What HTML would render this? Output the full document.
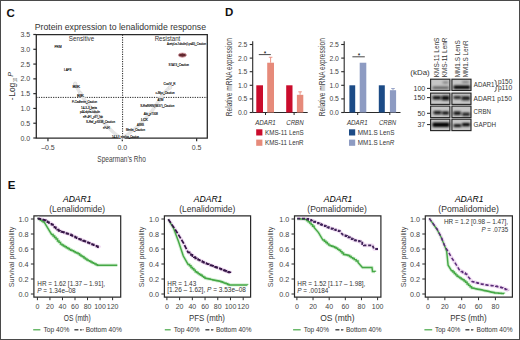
<!DOCTYPE html>
<html><head><meta charset="utf-8"><style>
html,body{margin:0;padding:0;background:#fff;width:520px;height:340px;overflow:hidden}
svg{display:block}
text{font-family:"Liberation Sans", sans-serif}
</style></head><body>
<svg width="520" height="340" viewBox="0 0 520 340">
<defs><filter id="bl" filterUnits="userSpaceOnUse" x="425" y="75" width="50" height="60"><feGaussianBlur stdDeviation="0.9"/></filter></defs>
<rect width="520" height="340" fill="#fff"/>
<rect x="0.50" y="0.50" width="519.00" height="339.00" fill="none" stroke="#4a4a4a" stroke-width="1" />
<text x="6.60" y="16.80" font-size="11.5" fill="#111" font-weight="bold" >C</text>
<text x="34.80" y="29.60" font-size="8.7" textLength="171.20" lengthAdjust="spacingAndGlyphs" fill="#333" >Protein expression to lenalidomide response</text>
<path d="M36.3 34.6 H207.3 V138.2 H36.3 Z" fill="none" stroke="#2a2a2a" stroke-width="1.3"/>
<line x1="33.30" y1="138.00" x2="36.30" y2="138.00" stroke="#2a2a2a" stroke-width="1.2" />
<text x="30.20" y="140.50" font-size="7" text-anchor="end" fill="#444" >0.0</text>
<line x1="33.30" y1="123.22" x2="36.30" y2="123.22" stroke="#2a2a2a" stroke-width="1.2" />
<text x="30.20" y="125.72" font-size="7" text-anchor="end" fill="#444" >0.5</text>
<line x1="33.30" y1="108.43" x2="36.30" y2="108.43" stroke="#2a2a2a" stroke-width="1.2" />
<text x="30.20" y="110.93" font-size="7" text-anchor="end" fill="#444" >1.0</text>
<line x1="33.30" y1="93.64" x2="36.30" y2="93.64" stroke="#2a2a2a" stroke-width="1.2" />
<text x="30.20" y="96.14" font-size="7" text-anchor="end" fill="#444" >1.5</text>
<line x1="33.30" y1="78.86" x2="36.30" y2="78.86" stroke="#2a2a2a" stroke-width="1.2" />
<text x="30.20" y="81.36" font-size="7" text-anchor="end" fill="#444" >2.0</text>
<line x1="33.30" y1="64.08" x2="36.30" y2="64.08" stroke="#2a2a2a" stroke-width="1.2" />
<text x="30.20" y="66.58" font-size="7" text-anchor="end" fill="#444" >2.5</text>
<line x1="33.30" y1="49.29" x2="36.30" y2="49.29" stroke="#2a2a2a" stroke-width="1.2" />
<text x="30.20" y="51.79" font-size="7" text-anchor="end" fill="#444" >3.0</text>
<line x1="33.30" y1="34.50" x2="36.30" y2="34.50" stroke="#2a2a2a" stroke-width="1.2" />
<text x="30.20" y="37.00" font-size="7" text-anchor="end" fill="#444" >3.5</text>
<line x1="47.95" y1="138.20" x2="47.95" y2="141.20" stroke="#2a2a2a" stroke-width="1.2" />
<text x="47.95" y="150.20" font-size="7" text-anchor="middle" fill="#444" >&#8211;0.5</text>
<line x1="122.30" y1="138.20" x2="122.30" y2="141.20" stroke="#2a2a2a" stroke-width="1.2" />
<text x="122.30" y="150.20" font-size="7" text-anchor="middle" fill="#444" >0.0</text>
<line x1="196.65" y1="138.20" x2="196.65" y2="141.20" stroke="#2a2a2a" stroke-width="1.2" />
<text x="196.65" y="150.20" font-size="7" text-anchor="middle" fill="#444" >0.5</text>
<text x="121.60" y="162.20" font-size="9.2" text-anchor="middle" textLength="48.50" lengthAdjust="spacingAndGlyphs" fill="#444" >Spearman&#8217;s Rho</text>
<g transform="translate(14.6 101.2) rotate(-90)" fill="#333" font-size="8.2"><text x="0.9" y="0">-</text><text x="4.4" y="0" textLength="14.1" lengthAdjust="spacingAndGlyphs">Log</text><text x="19.2" y="2.4" font-size="5.6" textLength="4" lengthAdjust="spacingAndGlyphs">10</text><text x="24.4" y="-1.4" font-size="7.3" font-style="italic">P</text></g>
<line x1="36.30" y1="97.40" x2="207.30" y2="97.40" stroke="#222" stroke-width="1" stroke-dasharray="1.2 1.2"/>
<line x1="122.60" y1="34.60" x2="122.60" y2="138.20" stroke="#222" stroke-width="1" stroke-dasharray="1.2 1.2"/>
<text x="81.50" y="41.00" font-size="7" text-anchor="middle" textLength="25.40" lengthAdjust="spacingAndGlyphs" fill="#333" >Sensitive</text>
<text x="167.50" y="41.20" font-size="7" text-anchor="middle" textLength="25.70" lengthAdjust="spacingAndGlyphs" fill="#333" >Resistant</text>
<path d="M75 84 L80 93 L84 99 L88 104 L93 110 L98 116 L103 122 L108 127 L113 132 L118 136 L122 138 L127 135 L132 131 L137 127 L142 122 L147 117 L152 111 L156 105 L160 99 L164 93 L170 87" fill="none" stroke="#e6e6e6" stroke-width="3.5" stroke-linecap="round" stroke-linejoin="round"/>
<circle cx="75.2" cy="83.8" r="1.8" fill="#ececec" stroke="#cfcfcf" stroke-width="0.5"/>
<circle cx="80.4" cy="93.3" r="1.8" fill="#ececec" stroke="#cfcfcf" stroke-width="0.5"/>
<circle cx="170" cy="87.5" r="1.8" fill="#ececec" stroke="#cfcfcf" stroke-width="0.5"/>
<circle cx="160" cy="99.5" r="1.8" fill="#ececec" stroke="#cfcfcf" stroke-width="0.5"/>
<ellipse cx="182.4" cy="55.1" rx="4" ry="2.1" fill="#62282e" stroke="#d8a0a8" stroke-width="0.9"/>
<text x="54.50" y="48.30" font-size="4.0" textLength="7.00" lengthAdjust="spacingAndGlyphs" fill="#000" stroke="#000" stroke-width="0.15">PRM</text>
<text x="64.00" y="71.20" font-size="4.0" textLength="7.50" lengthAdjust="spacingAndGlyphs" fill="#000" stroke="#000" stroke-width="0.15">LAPS</text>
<text x="72.50" y="88.10" font-size="4.0" textLength="7.50" lengthAdjust="spacingAndGlyphs" fill="#000" stroke="#000" stroke-width="0.15">BIK</text>
<text x="77.00" y="97.40" font-size="4.0" textLength="7.00" lengthAdjust="spacingAndGlyphs" fill="#000" stroke="#000" stroke-width="0.15">BIK</text>
<text x="72.00" y="102.90" font-size="4.0" textLength="25.00" lengthAdjust="spacingAndGlyphs" fill="#000" stroke="#000" stroke-width="0.15">P-Cadherin_Caution</text>
<text x="81.00" y="108.90" font-size="4.0" textLength="16.00" lengthAdjust="spacingAndGlyphs" fill="#000" stroke="#000" stroke-width="0.15">14-3-3_beta</text>
<text x="80.00" y="113.40" font-size="4.0" textLength="20.00" lengthAdjust="spacingAndGlyphs" fill="#000" stroke="#000" stroke-width="0.15">p44-alpha-tubulin</text>
<text x="83.00" y="117.90" font-size="4.0" textLength="20.00" lengthAdjust="spacingAndGlyphs" fill="#000" stroke="#000" stroke-width="0.15">eIF-4F1_pS?_Tab</text>
<text x="86.00" y="123.40" font-size="4.0" textLength="29.00" lengthAdjust="spacingAndGlyphs" fill="#000" stroke="#000" stroke-width="0.15">S-Raf_pS338_Caution</text>
<text x="103.00" y="129.40" font-size="4.0" textLength="7.00" lengthAdjust="spacingAndGlyphs" fill="#000" stroke="#000" stroke-width="0.15">eIF-4F1</text>
<text x="112.00" y="137.90" font-size="4.0" textLength="27.00" lengthAdjust="spacingAndGlyphs" fill="#000" stroke="#000" stroke-width="0.15">14-3-3_epsilon_Caution</text>
<text x="166.90" y="45.20" font-size="4.0" textLength="39.10" lengthAdjust="spacingAndGlyphs" fill="#000" stroke="#000" stroke-width="0.15">Acetyl-a-Tubulin(Lys40)_Caution</text>
<text x="168.50" y="65.60" font-size="4.0" textLength="20.50" lengthAdjust="spacingAndGlyphs" fill="#000" stroke="#000" stroke-width="0.15">STAT3_Caution</text>
<text x="163.50" y="85.10" font-size="4.0" textLength="12.00" lengthAdjust="spacingAndGlyphs" fill="#000" stroke="#000" stroke-width="0.15">CoxIV_R</text>
<text x="155.50" y="93.70" font-size="4.0" textLength="19.10" lengthAdjust="spacingAndGlyphs" fill="#000" stroke="#000" stroke-width="0.15">c-Myc_Caution</text>
<text x="157.60" y="101.00" font-size="4.0" textLength="5.90" lengthAdjust="spacingAndGlyphs" fill="#000" stroke="#000" stroke-width="0.15">ATM</text>
<text x="140.20" y="106.60" font-size="4.0" textLength="34.10" lengthAdjust="spacingAndGlyphs" fill="#000" stroke="#000" stroke-width="0.15">S-RafNRN(S637)_Caution</text>
<text x="143.70" y="115.00" font-size="4.0" textLength="14.30" lengthAdjust="spacingAndGlyphs" fill="#000" stroke="#000" stroke-width="0.15">Akt_pT308</text>
<text x="141.00" y="120.80" font-size="4.0" textLength="7.00" lengthAdjust="spacingAndGlyphs" fill="#000" stroke="#000" stroke-width="0.15">LCK</text>
<text x="137.00" y="126.00" font-size="4.0" textLength="7.00" lengthAdjust="spacingAndGlyphs" fill="#000" stroke="#000" stroke-width="0.15">ASNS</text>
<text x="126.00" y="130.70" font-size="4.0" textLength="19.00" lengthAdjust="spacingAndGlyphs" fill="#000" stroke="#000" stroke-width="0.15">Merlin_Caution</text>
<text x="225.00" y="16.30" font-size="11.5" fill="#111" font-weight="bold" >D</text>
<line x1="252.70" y1="41.20" x2="252.70" y2="112.50" stroke="#2a2a2a" stroke-width="1.1" />
<line x1="252.70" y1="112.50" x2="307.70" y2="112.50" stroke="#2a2a2a" stroke-width="1.1" />
<line x1="249.70" y1="112.50" x2="252.70" y2="112.50" stroke="#2a2a2a" stroke-width="1.1" />
<text x="247.40" y="114.90" font-size="6.8" text-anchor="end" fill="#444" >0.0</text>
<line x1="249.70" y1="98.90" x2="252.70" y2="98.90" stroke="#2a2a2a" stroke-width="1.1" />
<text x="247.40" y="101.30" font-size="6.8" text-anchor="end" fill="#444" >0.5</text>
<line x1="249.70" y1="85.30" x2="252.70" y2="85.30" stroke="#2a2a2a" stroke-width="1.1" />
<text x="247.40" y="87.70" font-size="6.8" text-anchor="end" fill="#444" >1.0</text>
<line x1="249.70" y1="71.70" x2="252.70" y2="71.70" stroke="#2a2a2a" stroke-width="1.1" />
<text x="247.40" y="74.10" font-size="6.8" text-anchor="end" fill="#444" >1.5</text>
<line x1="249.70" y1="58.10" x2="252.70" y2="58.10" stroke="#2a2a2a" stroke-width="1.1" />
<text x="247.40" y="60.50" font-size="6.8" text-anchor="end" fill="#444" >2.0</text>
<line x1="249.70" y1="44.50" x2="252.70" y2="44.50" stroke="#2a2a2a" stroke-width="1.1" />
<text x="247.40" y="46.90" font-size="6.8" text-anchor="end" fill="#444" >2.5</text>
<rect x="256.30" y="85.30" width="6.70" height="27.20" fill="#ca0c2c" />
<rect x="267.20" y="62.72" width="6.80" height="49.78" fill="#e68a7a" />
<rect x="286.20" y="85.30" width="6.30" height="27.20" fill="#ca0c2c" />
<rect x="296.90" y="94.82" width="6.40" height="17.68" fill="#e68a7a" />
<line x1="270.60" y1="57.28" x2="270.60" y2="62.72" stroke="#e68a7a" stroke-width="0.9" />
<line x1="268.80" y1="57.28" x2="272.40" y2="57.28" stroke="#e68a7a" stroke-width="0.9" />
<line x1="300.10" y1="91.83" x2="300.10" y2="94.82" stroke="#e68a7a" stroke-width="0.9" />
<line x1="298.30" y1="91.83" x2="301.90" y2="91.83" stroke="#e68a7a" stroke-width="0.9" />
<line x1="258.80" y1="54.60" x2="270.80" y2="54.60" stroke="#333" stroke-width="0.9" />
<text x="265.10" y="55.50" font-size="6.5" text-anchor="middle" >*</text>
<line x1="265.50" y1="112.50" x2="265.50" y2="115.00" stroke="#2a2a2a" stroke-width="1" />
<line x1="294.10" y1="112.50" x2="294.10" y2="115.00" stroke="#2a2a2a" stroke-width="1" />
<text x="255.20" y="125.00" font-size="7" textLength="20.60" lengthAdjust="spacingAndGlyphs" fill="#333" font-style="italic" >ADAR1</text>
<text x="286.30" y="125.00" font-size="7" textLength="17.30" lengthAdjust="spacingAndGlyphs" fill="#333" font-style="italic" >CRBN</text>
<text x="229.00" y="77.20" font-size="8.2" text-anchor="middle" textLength="78.00" lengthAdjust="spacingAndGlyphs" fill="#444" transform="rotate(-90 229.00 77.20)" dy="2.7">Relative mRNA expression</text>
<rect x="256.20" y="129.30" width="6.20" height="6.20" fill="#ca0c2c" />
<rect x="256.20" y="139.60" width="6.20" height="6.20" fill="#e68a7a" />
<text x="265.00" y="135.10" font-size="7" textLength="38.60" lengthAdjust="spacingAndGlyphs" fill="#333" >KMS-11 LenS</text>
<text x="265.00" y="145.40" font-size="7" textLength="38.60" lengthAdjust="spacingAndGlyphs" fill="#333" >KMS-11 LenR</text>
<line x1="344.20" y1="41.20" x2="344.20" y2="112.50" stroke="#2a2a2a" stroke-width="1.1" />
<line x1="344.20" y1="112.50" x2="400.50" y2="112.50" stroke="#2a2a2a" stroke-width="1.1" />
<line x1="341.20" y1="112.50" x2="344.20" y2="112.50" stroke="#2a2a2a" stroke-width="1.1" />
<text x="338.90" y="114.90" font-size="6.8" text-anchor="end" fill="#444" >0.0</text>
<line x1="341.20" y1="98.90" x2="344.20" y2="98.90" stroke="#2a2a2a" stroke-width="1.1" />
<text x="338.90" y="101.30" font-size="6.8" text-anchor="end" fill="#444" >0.5</text>
<line x1="341.20" y1="85.30" x2="344.20" y2="85.30" stroke="#2a2a2a" stroke-width="1.1" />
<text x="338.90" y="87.70" font-size="6.8" text-anchor="end" fill="#444" >1.0</text>
<line x1="341.20" y1="71.70" x2="344.20" y2="71.70" stroke="#2a2a2a" stroke-width="1.1" />
<text x="338.90" y="74.10" font-size="6.8" text-anchor="end" fill="#444" >1.5</text>
<line x1="341.20" y1="58.10" x2="344.20" y2="58.10" stroke="#2a2a2a" stroke-width="1.1" />
<text x="338.90" y="60.50" font-size="6.8" text-anchor="end" fill="#444" >2.0</text>
<line x1="341.20" y1="44.50" x2="344.20" y2="44.50" stroke="#2a2a2a" stroke-width="1.1" />
<text x="338.90" y="46.90" font-size="6.8" text-anchor="end" fill="#444" >2.5</text>
<rect x="349.40" y="85.30" width="5.80" height="27.20" fill="#1c4b86" />
<rect x="359.70" y="62.72" width="6.60" height="49.78" fill="#8d9bc2" />
<rect x="378.80" y="85.30" width="6.00" height="27.20" fill="#1c4b86" />
<rect x="389.90" y="90.20" width="6.20" height="22.30" fill="#8d9bc2" />
<line x1="393.00" y1="88.56" x2="393.00" y2="90.20" stroke="#8d9bc2" stroke-width="0.9" />
<line x1="391.20" y1="88.56" x2="394.80" y2="88.56" stroke="#8d9bc2" stroke-width="0.9" />
<line x1="352.40" y1="56.80" x2="364.80" y2="56.80" stroke="#333" stroke-width="0.9" />
<text x="358.90" y="57.70" font-size="6.5" text-anchor="middle" >*</text>
<line x1="357.70" y1="112.50" x2="357.70" y2="115.00" stroke="#2a2a2a" stroke-width="1" />
<line x1="389.80" y1="112.50" x2="389.80" y2="115.00" stroke="#2a2a2a" stroke-width="1" />
<text x="347.00" y="125.00" font-size="7" textLength="20.60" lengthAdjust="spacingAndGlyphs" fill="#333" font-style="italic" >ADAR1</text>
<text x="379.00" y="125.00" font-size="7" textLength="17.00" lengthAdjust="spacingAndGlyphs" fill="#333" font-style="italic" >CRBN</text>
<text x="322.20" y="77.20" font-size="8.2" text-anchor="middle" textLength="78.00" lengthAdjust="spacingAndGlyphs" fill="#444" transform="rotate(-90 322.20 77.20)" dy="2.7">Relative mRNA expression</text>
<rect x="349.00" y="129.30" width="6.20" height="6.20" fill="#1c4b86" />
<rect x="349.00" y="139.60" width="6.20" height="6.20" fill="#8d9bc2" />
<text x="357.70" y="135.10" font-size="7" textLength="36.70" lengthAdjust="spacingAndGlyphs" fill="#333" >MM1.S LenS</text>
<text x="357.70" y="145.40" font-size="7" textLength="36.70" lengthAdjust="spacingAndGlyphs" fill="#333" >MM1.S Len<tspan font-style="italic">R</tspan></text>
<text x="0" y="0" font-size="7" fill="#333" textLength="39.7" lengthAdjust="spacingAndGlyphs" transform="translate(439.30 77.3) rotate(-90)">KMS-11 LenS</text>
<text x="0" y="0" font-size="7" fill="#333" textLength="39.7" lengthAdjust="spacingAndGlyphs" transform="translate(447.20 77.3) rotate(-90)">KMS-11 LenR</text>
<text x="0" y="0" font-size="7" fill="#333" textLength="37" lengthAdjust="spacingAndGlyphs" transform="translate(459.50 77.3) rotate(-90)">MM1.S LenS</text>
<text x="0" y="0" font-size="7" fill="#333" textLength="37" lengthAdjust="spacingAndGlyphs" transform="translate(467.50 77.3) rotate(-90)">MM1.S LenR</text>
<text x="410.30" y="74.60" font-size="7" textLength="19.40" lengthAdjust="spacingAndGlyphs" fill="#333" >(kDa)</text>
<rect x="430.60" y="79.20" width="19.30" height="11.30" fill="#c6c6c6" stroke="#262626" stroke-width="1.15" />
<rect x="451.90" y="79.20" width="19.10" height="11.30" fill="#c6c6c6" stroke="#262626" stroke-width="1.15" />
<rect x="430.60" y="93.10" width="19.30" height="11.30" fill="#c6c6c6" stroke="#262626" stroke-width="1.15" />
<rect x="451.90" y="93.10" width="19.10" height="11.30" fill="#c6c6c6" stroke="#262626" stroke-width="1.15" />
<rect x="430.60" y="106.10" width="19.30" height="11.50" fill="#c6c6c6" stroke="#262626" stroke-width="1.15" />
<rect x="451.90" y="106.10" width="19.10" height="11.50" fill="#c6c6c6" stroke="#262626" stroke-width="1.15" />
<rect x="430.60" y="119.20" width="19.30" height="11.40" fill="#c6c6c6" stroke="#262626" stroke-width="1.15" />
<rect x="451.90" y="119.20" width="19.10" height="11.40" fill="#c6c6c6" stroke="#262626" stroke-width="1.15" />
<rect x="432.5" y="86.50" width="16.5" height="2.6" rx="1" fill="#5a5a5a" opacity="1" filter="url(#bl)"/>
<rect x="442.5" y="81.40" width="6.0" height="2.0" rx="1" fill="#777" opacity="1" filter="url(#bl)"/>
<rect x="453.5" y="85.40" width="16.5" height="3.6" rx="1" fill="#000000" opacity="1" filter="url(#bl)"/>
<rect x="462" y="81.30" width="7" height="1.8" rx="1" fill="#707070" opacity="1" filter="url(#bl)"/>
<rect x="432.5" y="96.10" width="8.5" height="3.4" rx="1" fill="#111111" opacity="1" filter="url(#bl)"/>
<rect x="441.5" y="95.70" width="8.0" height="4.6" rx="1" fill="#0a0a0a" opacity="1" filter="url(#bl)"/>
<rect x="453.5" y="96.10" width="7.5" height="3.0" rx="1" fill="#222222" opacity="1" filter="url(#bl)"/>
<rect x="461.5" y="96.20" width="8.5" height="4.0" rx="1" fill="#1a1a1a" opacity="1" filter="url(#bl)"/>
<rect x="433.5" y="110.90" width="8.0" height="3.4" rx="1" fill="#0a0a0a" opacity="1" filter="url(#bl)"/>
<rect x="442" y="111.60" width="7" height="2.8" rx="1" fill="#000" opacity="1" filter="url(#bl)"/>
<rect x="453.5" y="111.40" width="7.5" height="3.6" rx="1" fill="#0a0a0a" opacity="1" filter="url(#bl)"/>
<rect x="462" y="112.70" width="8" height="3.0" rx="1" fill="#111111" opacity="1" filter="url(#bl)"/>
<rect x="432.5" y="122.50" width="17.0" height="4.6" rx="1" fill="#000000" opacity="1" filter="url(#bl)"/>
<rect x="453.5" y="124.30" width="8.0" height="2.6" rx="1" fill="#000000" opacity="1" filter="url(#bl)"/>
<rect x="462" y="123.00" width="8" height="3.2" rx="1" fill="#000000" opacity="1" filter="url(#bl)"/>
<text x="425.20" y="90.90" font-size="7" text-anchor="end" fill="#333" >100</text>
<line x1="427.00" y1="88.40" x2="430.30" y2="88.40" stroke="#222" stroke-width="1" />
<text x="425.20" y="100.10" font-size="7" text-anchor="end" fill="#333" >150</text>
<line x1="427.00" y1="97.60" x2="430.30" y2="97.60" stroke="#222" stroke-width="1" />
<text x="425.20" y="115.80" font-size="7" text-anchor="end" fill="#333" >50</text>
<line x1="427.00" y1="113.30" x2="430.30" y2="113.30" stroke="#222" stroke-width="1" />
<text x="425.20" y="127.10" font-size="7" text-anchor="end" fill="#333" >37</text>
<line x1="427.00" y1="124.60" x2="430.30" y2="124.60" stroke="#222" stroke-width="1" />
<text x="473.80" y="87.00" font-size="7" textLength="20.60" lengthAdjust="spacingAndGlyphs" fill="#333" >ADAR1</text>
<path d="M494.4 80.2 Q496.1 80.2 496.1 82.2 V84.2 Q496.1 85.9 497.9 85.9 Q496.1 85.9 496.1 87.6 V89.6 Q496.1 91.6 494.4 91.6" fill="none" stroke="#333" stroke-width="0.8"/>
<text x="497.90" y="83.70" font-size="6.8" textLength="14.40" lengthAdjust="spacingAndGlyphs" fill="#333" >p150</text>
<text x="497.90" y="89.60" font-size="6.8" textLength="14.40" lengthAdjust="spacingAndGlyphs" fill="#333" >p110</text>
<text x="473.60" y="100.80" font-size="7" textLength="38.20" lengthAdjust="spacingAndGlyphs" fill="#333" >ADAR1 p150</text>
<text x="473.60" y="113.50" font-size="7" textLength="17.40" lengthAdjust="spacingAndGlyphs" fill="#333" >CRBN</text>
<text x="473.60" y="126.90" font-size="7" textLength="22.40" lengthAdjust="spacingAndGlyphs" fill="#333" >GAPDH</text>
<text x="7.80" y="189.00" font-size="11.5" fill="#111" font-weight="bold" >E</text>
<path d="M33.9 215.8 H120.7 V297.2 H33.9 Z" fill="none" stroke="#2a2a2a" stroke-width="1.2"/>
<line x1="30.90" y1="294.00" x2="33.90" y2="294.00" stroke="#2a2a2a" stroke-width="1" />
<text x="28.60" y="296.50" font-size="7.2" text-anchor="end" fill="#444" >0.0</text>
<line x1="30.90" y1="279.00" x2="33.90" y2="279.00" stroke="#2a2a2a" stroke-width="1" />
<text x="28.60" y="281.50" font-size="7.2" text-anchor="end" fill="#444" >0.2</text>
<line x1="30.90" y1="264.00" x2="33.90" y2="264.00" stroke="#2a2a2a" stroke-width="1" />
<text x="28.60" y="266.50" font-size="7.2" text-anchor="end" fill="#444" >0.4</text>
<line x1="30.90" y1="249.00" x2="33.90" y2="249.00" stroke="#2a2a2a" stroke-width="1" />
<text x="28.60" y="251.50" font-size="7.2" text-anchor="end" fill="#444" >0.6</text>
<line x1="30.90" y1="234.00" x2="33.90" y2="234.00" stroke="#2a2a2a" stroke-width="1" />
<text x="28.60" y="236.50" font-size="7.2" text-anchor="end" fill="#444" >0.8</text>
<line x1="30.90" y1="219.00" x2="33.90" y2="219.00" stroke="#2a2a2a" stroke-width="1" />
<text x="28.60" y="221.50" font-size="7.2" text-anchor="end" fill="#444" >1.0</text>
<line x1="37.40" y1="297.20" x2="37.40" y2="300.20" stroke="#2a2a2a" stroke-width="1" />
<text x="37.40" y="309.40" font-size="7.0" text-anchor="middle" fill="#444" >0</text>
<line x1="49.93" y1="297.20" x2="49.93" y2="300.20" stroke="#2a2a2a" stroke-width="1" />
<text x="49.93" y="309.40" font-size="7.0" text-anchor="middle" fill="#444" >20</text>
<line x1="62.47" y1="297.20" x2="62.47" y2="300.20" stroke="#2a2a2a" stroke-width="1" />
<text x="62.47" y="309.40" font-size="7.0" text-anchor="middle" fill="#444" >40</text>
<line x1="75.00" y1="297.20" x2="75.00" y2="300.20" stroke="#2a2a2a" stroke-width="1" />
<text x="75.00" y="309.40" font-size="7.0" text-anchor="middle" fill="#444" >60</text>
<line x1="87.53" y1="297.20" x2="87.53" y2="300.20" stroke="#2a2a2a" stroke-width="1" />
<text x="87.53" y="309.40" font-size="7.0" text-anchor="middle" fill="#444" >80</text>
<line x1="100.07" y1="297.20" x2="100.07" y2="300.20" stroke="#2a2a2a" stroke-width="1" />
<text x="100.07" y="309.40" font-size="7.0" text-anchor="middle" fill="#444" >100</text>
<line x1="112.60" y1="297.20" x2="112.60" y2="300.20" stroke="#2a2a2a" stroke-width="1" />
<text x="112.60" y="309.40" font-size="7.0" text-anchor="middle" fill="#444" >120</text>
<text x="77.25" y="201.60" font-size="9" text-anchor="middle" textLength="28.60" lengthAdjust="spacingAndGlyphs" font-style="italic" >ADAR1</text>
<text x="77.10" y="211.80" font-size="9" text-anchor="middle" textLength="55.80" lengthAdjust="spacingAndGlyphs" fill="#333" >(Lenalidomide)</text>
<text x="77.30" y="320.80" font-size="8.6" text-anchor="middle" textLength="27.00" lengthAdjust="spacingAndGlyphs" fill="#333" >OS (mth)</text>
<text x="11.90" y="257.00" font-size="7.6" text-anchor="middle" textLength="60.50" lengthAdjust="spacingAndGlyphs" fill="#444" transform="rotate(-90 11.90 257.00)" dy="2.6">Survival probability</text>
<path d="M37.50 218.50 H38.92 V219.32 H40.34 V220.27 H41.76 V221.11 H43.18 V222.04 H44.60 V222.90 L51.60 234.40 H53.08 V236.07 H54.57 V237.46 H56.05 V239.05 H57.53 V241.00 H59.02 V242.39 H60.50 V244.10 H61.97 V244.92 H63.43 V245.98 H64.90 V246.74 H66.37 V247.71 H67.83 V248.51 H69.30 V249.40 H70.77 V250.16 H72.23 V250.80 H73.70 V251.62 H75.17 V252.40 H76.63 V253.07 H78.10 V253.80 H79.57 V254.90 H81.03 V255.91 H82.50 V256.79 H83.97 V258.00 H85.43 V258.99 H86.90 V260.00 H88.23 V260.63 H89.55 V261.25 H90.88 V262.05 H92.20 V262.65 H93.53 V263.35 H94.85 V264.04 H96.17 V264.67 H97.50 V265.30 H117.30 V265.30" fill="none" stroke="#d6f0d6" stroke-width="3.4" stroke-linejoin="round"/>
<path d="M37.50 218.50 H38.92 V218.90 H40.34 V219.21 H41.76 V219.61 H43.18 V219.94 H44.60 V220.30 H46.00 V221.28 H47.40 V222.14 H48.80 V222.85 H50.20 V223.74 H51.60 V224.70 H53.02 V225.85 H54.44 V227.32 H55.86 V228.40 H57.28 V229.70 H58.70 V230.90 H60.03 V231.32 H61.35 V231.78 H62.67 V232.20 H64.00 V232.63 H65.33 V233.10 H66.65 V233.53 H67.97 V234.01 H69.30 V234.40 H70.77 V235.17 H72.23 V235.95 H73.70 V236.67 H75.17 V237.42 H76.63 V238.10 H78.10 V238.80 H79.57 V239.33 H81.03 V240.02 H82.50 V240.62 H83.97 V241.19 H85.43 V241.73 H86.90 V242.30 H88.28 V242.92 H89.66 V243.44 H91.03 V244.12 H92.41 V244.67 H93.79 V245.21 H95.17 V245.77 H96.54 V246.47 H97.92 V247.08 H99.30 V247.60" fill="none" stroke="#f0dcf2" stroke-width="3.6" stroke-linejoin="round"/>
<path d="M37.50 218.50 H38.92 V219.32 H40.34 V220.27 H41.76 V221.11 H43.18 V222.04 H44.60 V222.90 L51.60 234.40 H53.08 V236.07 H54.57 V237.46 H56.05 V239.05 H57.53 V241.00 H59.02 V242.39 H60.50 V244.10 H61.97 V244.92 H63.43 V245.98 H64.90 V246.74 H66.37 V247.71 H67.83 V248.51 H69.30 V249.40 H70.77 V250.16 H72.23 V250.80 H73.70 V251.62 H75.17 V252.40 H76.63 V253.07 H78.10 V253.80 H79.57 V254.90 H81.03 V255.91 H82.50 V256.79 H83.97 V258.00 H85.43 V258.99 H86.90 V260.00 H88.23 V260.63 H89.55 V261.25 H90.88 V262.05 H92.20 V262.65 H93.53 V263.35 H94.85 V264.04 H96.17 V264.67 H97.50 V265.30 H117.30 V265.30" fill="none" stroke="#46a846" stroke-width="1.45" stroke-linejoin="miter"/>
<path d="M37.50 218.50 H38.92 V218.90 H40.34 V219.21 H41.76 V219.61 H43.18 V219.94 H44.60 V220.30 H46.00 V221.28 H47.40 V222.14 H48.80 V222.85 H50.20 V223.74 H51.60 V224.70 H53.02 V225.85 H54.44 V227.32 H55.86 V228.40 H57.28 V229.70 H58.70 V230.90 H60.03 V231.32 H61.35 V231.78 H62.67 V232.20 H64.00 V232.63 H65.33 V233.10 H66.65 V233.53 H67.97 V234.01 H69.30 V234.40 H70.77 V235.17 H72.23 V235.95 H73.70 V236.67 H75.17 V237.42 H76.63 V238.10 H78.10 V238.80 H79.57 V239.33 H81.03 V240.02 H82.50 V240.62 H83.97 V241.19 H85.43 V241.73 H86.90 V242.30 H88.28 V242.92 H89.66 V243.44 H91.03 V244.12 H92.41 V244.67 H93.79 V245.21 H95.17 V245.77 H96.54 V246.47 H97.92 V247.08 H99.30 V247.60" fill="none" stroke="#351546" stroke-width="1.7" stroke-dasharray="4.5 1.6" stroke-linejoin="miter"/>
<text x="37.30" y="286.10" font-size="7.0" textLength="67.70" lengthAdjust="spacingAndGlyphs" fill="#333" >HR = 1.62 [1.37 &#8211; 1.91],</text>
<text x="37.30" y="293.00" font-size="7.0" textLength="38.40" lengthAdjust="spacingAndGlyphs" fill="#333" ><tspan font-style="italic">P</tspan> = 1.34e&#8211;08</text>
<line x1="33.20" y1="329.80" x2="40.40" y2="329.80" stroke="#46a846" stroke-width="1.2" />
<text x="43.50" y="332.00" font-size="7.0" textLength="25.80" lengthAdjust="spacingAndGlyphs" fill="#333" >Top 40%</text>
<line x1="74.40" y1="329.80" x2="78.40" y2="329.80" stroke="#333" stroke-width="1.3" />
<line x1="80.00" y1="329.80" x2="81.80" y2="329.80" stroke="#333" stroke-width="1.3" />
<line x1="82.50" y1="329.80" x2="83.70" y2="329.80" stroke="#555" stroke-width="1.1" />
<text x="85.70" y="332.00" font-size="7.0" textLength="36.10" lengthAdjust="spacingAndGlyphs" fill="#333" >Bottom 40%</text>
<path d="M164.4 215.8 H250.6 V297.2 H164.4 Z" fill="none" stroke="#2a2a2a" stroke-width="1.2"/>
<line x1="161.40" y1="294.00" x2="164.40" y2="294.00" stroke="#2a2a2a" stroke-width="1" />
<text x="159.10" y="296.50" font-size="7.2" text-anchor="end" fill="#444" >0.0</text>
<line x1="161.40" y1="279.00" x2="164.40" y2="279.00" stroke="#2a2a2a" stroke-width="1" />
<text x="159.10" y="281.50" font-size="7.2" text-anchor="end" fill="#444" >0.2</text>
<line x1="161.40" y1="264.00" x2="164.40" y2="264.00" stroke="#2a2a2a" stroke-width="1" />
<text x="159.10" y="266.50" font-size="7.2" text-anchor="end" fill="#444" >0.4</text>
<line x1="161.40" y1="249.00" x2="164.40" y2="249.00" stroke="#2a2a2a" stroke-width="1" />
<text x="159.10" y="251.50" font-size="7.2" text-anchor="end" fill="#444" >0.6</text>
<line x1="161.40" y1="234.00" x2="164.40" y2="234.00" stroke="#2a2a2a" stroke-width="1" />
<text x="159.10" y="236.50" font-size="7.2" text-anchor="end" fill="#444" >0.8</text>
<line x1="161.40" y1="219.00" x2="164.40" y2="219.00" stroke="#2a2a2a" stroke-width="1" />
<text x="159.10" y="221.50" font-size="7.2" text-anchor="end" fill="#444" >1.0</text>
<line x1="166.90" y1="297.20" x2="166.90" y2="300.20" stroke="#2a2a2a" stroke-width="1" />
<text x="166.90" y="309.40" font-size="7.0" text-anchor="middle" fill="#444" >0</text>
<line x1="179.62" y1="297.20" x2="179.62" y2="300.20" stroke="#2a2a2a" stroke-width="1" />
<text x="179.62" y="309.40" font-size="7.0" text-anchor="middle" fill="#444" >20</text>
<line x1="192.33" y1="297.20" x2="192.33" y2="300.20" stroke="#2a2a2a" stroke-width="1" />
<text x="192.33" y="309.40" font-size="7.0" text-anchor="middle" fill="#444" >40</text>
<line x1="205.05" y1="297.20" x2="205.05" y2="300.20" stroke="#2a2a2a" stroke-width="1" />
<text x="205.05" y="309.40" font-size="7.0" text-anchor="middle" fill="#444" >60</text>
<line x1="217.77" y1="297.20" x2="217.77" y2="300.20" stroke="#2a2a2a" stroke-width="1" />
<text x="217.77" y="309.40" font-size="7.0" text-anchor="middle" fill="#444" >80</text>
<line x1="230.48" y1="297.20" x2="230.48" y2="300.20" stroke="#2a2a2a" stroke-width="1" />
<text x="230.48" y="309.40" font-size="7.0" text-anchor="middle" fill="#444" >100</text>
<line x1="243.20" y1="297.20" x2="243.20" y2="300.20" stroke="#2a2a2a" stroke-width="1" />
<text x="243.20" y="309.40" font-size="7.0" text-anchor="middle" fill="#444" >120</text>
<text x="208.10" y="201.60" font-size="9" text-anchor="middle" textLength="28.60" lengthAdjust="spacingAndGlyphs" font-style="italic" >ADAR1</text>
<text x="207.30" y="211.80" font-size="9" text-anchor="middle" textLength="56.20" lengthAdjust="spacingAndGlyphs" fill="#333" >(Lenalidomide)</text>
<text x="207.00" y="320.80" font-size="8.6" text-anchor="middle" textLength="36.00" lengthAdjust="spacingAndGlyphs" fill="#333" >PFS (mth)</text>
<text x="141.50" y="257.00" font-size="7.6" text-anchor="middle" textLength="60.50" lengthAdjust="spacingAndGlyphs" fill="#444" transform="rotate(-90 141.50 257.00)" dy="2.6">Survival probability</text>
<path d="M168.30 219.30 L173.60 228.30 L178.50 241.50 L183.30 256.00 L188.10 264.40 H189.54 V265.71 H190.98 V267.43 H192.42 V268.75 H193.86 V270.11 H195.30 V271.70 H196.69 V272.58 H198.07 V273.62 H199.46 V274.57 H200.84 V275.31 H202.23 V276.37 H203.61 V277.17 H205.00 V278.20 H206.31 V278.50 H207.62 V278.75 H208.93 V279.07 H210.24 V279.36 H211.55 V279.61 H212.85 V279.93 H214.16 V280.16 H215.47 V280.42 H216.78 V280.74 H218.09 V280.99 H219.40 V281.30 H220.79 V281.78 H222.17 V282.32 H223.56 V282.86 H224.94 V283.31 H226.33 V283.81 H227.71 V284.43 H229.10 V284.90 H247.40 V285.10" fill="none" stroke="#d6f0d6" stroke-width="3.4" stroke-linejoin="round"/>
<path d="M168.30 219.30 L176.00 230.70 L183.30 242.70 L188.10 252.40 H189.54 V253.54 H190.98 V254.94 H192.42 V256.12 H193.86 V257.16 H195.30 V258.40 H196.69 V259.08 H198.07 V259.77 H199.46 V260.48 H200.84 V261.16 H202.23 V261.84 H203.61 V262.53 H205.00 V263.20 H206.37 V263.77 H207.74 V264.23 H209.11 V264.73 H210.49 V265.29 H211.86 V265.74 H213.23 V266.26 H214.60 V266.80 H215.91 V267.37 H217.22 V267.82 H218.53 V268.33 H219.83 V268.77 H221.14 V269.33 H222.45 V269.86 H223.76 V270.30 H225.07 V270.88 H226.38 V271.39 H227.68 V271.83 H228.99 V272.41 H230.30 V272.90" fill="none" stroke="#f0dcf2" stroke-width="3.6" stroke-linejoin="round"/>
<path d="M168.30 219.30 L173.60 228.30 L178.50 241.50 L183.30 256.00 L188.10 264.40 H189.54 V265.71 H190.98 V267.43 H192.42 V268.75 H193.86 V270.11 H195.30 V271.70 H196.69 V272.58 H198.07 V273.62 H199.46 V274.57 H200.84 V275.31 H202.23 V276.37 H203.61 V277.17 H205.00 V278.20 H206.31 V278.50 H207.62 V278.75 H208.93 V279.07 H210.24 V279.36 H211.55 V279.61 H212.85 V279.93 H214.16 V280.16 H215.47 V280.42 H216.78 V280.74 H218.09 V280.99 H219.40 V281.30 H220.79 V281.78 H222.17 V282.32 H223.56 V282.86 H224.94 V283.31 H226.33 V283.81 H227.71 V284.43 H229.10 V284.90 H247.40 V285.10" fill="none" stroke="#46a846" stroke-width="1.45" stroke-linejoin="miter"/>
<path d="M168.30 219.30 L176.00 230.70 L183.30 242.70 L188.10 252.40 H189.54 V253.54 H190.98 V254.94 H192.42 V256.12 H193.86 V257.16 H195.30 V258.40 H196.69 V259.08 H198.07 V259.77 H199.46 V260.48 H200.84 V261.16 H202.23 V261.84 H203.61 V262.53 H205.00 V263.20 H206.37 V263.77 H207.74 V264.23 H209.11 V264.73 H210.49 V265.29 H211.86 V265.74 H213.23 V266.26 H214.60 V266.80 H215.91 V267.37 H217.22 V267.82 H218.53 V268.33 H219.83 V268.77 H221.14 V269.33 H222.45 V269.86 H223.76 V270.30 H225.07 V270.88 H226.38 V271.39 H227.68 V271.83 H228.99 V272.41 H230.30 V272.90" fill="none" stroke="#351546" stroke-width="1.7" stroke-dasharray="4.5 1.6" stroke-linejoin="miter"/>
<text x="167.30" y="285.50" font-size="7.0" textLength="28.90" lengthAdjust="spacingAndGlyphs" fill="#333" >HR = 1.43</text>
<text x="167.30" y="292.30" font-size="7.0" textLength="78.60" lengthAdjust="spacingAndGlyphs" fill="#333" >[1.26 &#8211; 1.62], <tspan font-style="italic">P</tspan> = 3.53e&#8211;08</text>
<line x1="164.80" y1="329.80" x2="170.70" y2="329.80" stroke="#46a846" stroke-width="1.2" />
<text x="173.70" y="332.00" font-size="7.0" textLength="26.00" lengthAdjust="spacingAndGlyphs" fill="#333" >Top 40%</text>
<line x1="205.40" y1="329.80" x2="209.40" y2="329.80" stroke="#333" stroke-width="1.3" />
<line x1="211.00" y1="329.80" x2="212.80" y2="329.80" stroke="#333" stroke-width="1.3" />
<line x1="212.30" y1="329.80" x2="213.50" y2="329.80" stroke="#555" stroke-width="1.1" />
<text x="216.00" y="332.00" font-size="7.0" textLength="35.50" lengthAdjust="spacingAndGlyphs" fill="#333" >Bottom 40%</text>
<path d="M294.5 215.8 H380.9 V297.2 H294.5 Z" fill="none" stroke="#2a2a2a" stroke-width="1.2"/>
<line x1="291.50" y1="294.00" x2="294.50" y2="294.00" stroke="#2a2a2a" stroke-width="1" />
<text x="289.20" y="296.50" font-size="7.2" text-anchor="end" fill="#444" >0.0</text>
<line x1="291.50" y1="279.00" x2="294.50" y2="279.00" stroke="#2a2a2a" stroke-width="1" />
<text x="289.20" y="281.50" font-size="7.2" text-anchor="end" fill="#444" >0.2</text>
<line x1="291.50" y1="264.00" x2="294.50" y2="264.00" stroke="#2a2a2a" stroke-width="1" />
<text x="289.20" y="266.50" font-size="7.2" text-anchor="end" fill="#444" >0.4</text>
<line x1="291.50" y1="249.00" x2="294.50" y2="249.00" stroke="#2a2a2a" stroke-width="1" />
<text x="289.20" y="251.50" font-size="7.2" text-anchor="end" fill="#444" >0.6</text>
<line x1="291.50" y1="234.00" x2="294.50" y2="234.00" stroke="#2a2a2a" stroke-width="1" />
<text x="289.20" y="236.50" font-size="7.2" text-anchor="end" fill="#444" >0.8</text>
<line x1="291.50" y1="219.00" x2="294.50" y2="219.00" stroke="#2a2a2a" stroke-width="1" />
<text x="289.20" y="221.50" font-size="7.2" text-anchor="end" fill="#444" >1.0</text>
<line x1="296.90" y1="297.20" x2="296.90" y2="300.20" stroke="#2a2a2a" stroke-width="1" />
<text x="296.90" y="309.40" font-size="7.0" text-anchor="middle" fill="#444" >0</text>
<line x1="313.04" y1="297.20" x2="313.04" y2="300.20" stroke="#2a2a2a" stroke-width="1" />
<text x="313.04" y="309.40" font-size="7.0" text-anchor="middle" fill="#444" >20</text>
<line x1="329.18" y1="297.20" x2="329.18" y2="300.20" stroke="#2a2a2a" stroke-width="1" />
<text x="329.18" y="309.40" font-size="7.0" text-anchor="middle" fill="#444" >40</text>
<line x1="345.32" y1="297.20" x2="345.32" y2="300.20" stroke="#2a2a2a" stroke-width="1" />
<text x="345.32" y="309.40" font-size="7.0" text-anchor="middle" fill="#444" >60</text>
<line x1="361.46" y1="297.20" x2="361.46" y2="300.20" stroke="#2a2a2a" stroke-width="1" />
<text x="361.46" y="309.40" font-size="7.0" text-anchor="middle" fill="#444" >80</text>
<line x1="377.60" y1="297.20" x2="377.60" y2="300.20" stroke="#2a2a2a" stroke-width="1" />
<text x="377.60" y="309.40" font-size="7.0" text-anchor="middle" fill="#444" >100</text>
<text x="338.10" y="201.60" font-size="9" text-anchor="middle" textLength="28.60" lengthAdjust="spacingAndGlyphs" font-style="italic" >ADAR1</text>
<text x="337.10" y="211.80" font-size="9" text-anchor="middle" textLength="59.60" lengthAdjust="spacingAndGlyphs" fill="#333" >(Pomalidomide)</text>
<text x="337.40" y="320.80" font-size="8.6" text-anchor="middle" textLength="34.30" lengthAdjust="spacingAndGlyphs" fill="#333" >OS (mth)</text>
<text x="270.50" y="257.00" font-size="7.6" text-anchor="middle" textLength="60.50" lengthAdjust="spacingAndGlyphs" fill="#444" transform="rotate(-90 270.50 257.00)" dy="2.6">Survival probability</text>
<path d="M297.20 218.70 H298.55 V218.82 H299.90 V218.94 H301.25 V219.05 H302.60 V219.17 H303.95 V219.29 H305.30 V219.40 H306.77 V220.49 H308.23 V221.73 H309.70 V223.10 H311.17 V224.63 H312.63 V226.20 H314.10 V227.50 L318.50 232.60 L322.90 240.00 H324.38 V241.20 H325.85 V242.54 H327.32 V243.85 H328.80 V245.10 H330.27 V245.65 H331.75 V246.23 H333.23 V246.80 H334.70 V247.40 H336.17 V248.34 H337.63 V249.36 H339.10 V250.30 H340.57 V251.60 H342.03 V252.99 H343.50 V254.40 H345.00 V254.79 H346.50 V255.09 H348.00 V255.50 H349.57 V256.54 H351.15 V257.61 H352.73 V258.53 H354.30 V259.60 H356.15 V260.95 H358.00 V262.50 L362.40 267.50 H372.00 V267.50 L372.50 271.50 H375.00 V272.00" fill="none" stroke="#d6f0d6" stroke-width="3.4" stroke-linejoin="round"/>
<path d="M297.20 218.70 H306.80 V218.90 H308.21 V219.51 H309.62 V219.99 H311.04 V220.54 H312.45 V221.14 H313.86 V221.74 H315.28 V222.22 H316.69 V222.81 H318.10 V223.40 H319.44 V223.92 H320.79 V224.53 H322.13 V225.02 H323.48 V225.63 H324.82 V226.08 H326.17 V226.64 H327.51 V227.23 H328.86 V227.81 H330.20 V228.30 H331.60 V228.77 H333.00 V229.21 H334.40 V229.67 H335.80 V230.19 H337.20 V230.62 H338.60 V231.16 H340.00 V231.60 L342.70 234.70 H344.12 V235.43 H345.55 V236.00 H346.97 V236.69 H348.40 V237.40 H350.03 V238.33 H351.67 V239.16 H353.30 V240.00 H354.73 V240.38 H356.15 V240.69 H357.57 V241.02 H359.00 V241.40 H360.63 V242.66 H362.27 V244.16 H363.90 V245.40 H372.70 V245.80 L374.00 249.00 H378.00 V249.00" fill="none" stroke="#f0dcf2" stroke-width="3.6" stroke-linejoin="round"/>
<path d="M297.20 218.70 H298.55 V218.82 H299.90 V218.94 H301.25 V219.05 H302.60 V219.17 H303.95 V219.29 H305.30 V219.40 H306.77 V220.49 H308.23 V221.73 H309.70 V223.10 H311.17 V224.63 H312.63 V226.20 H314.10 V227.50 L318.50 232.60 L322.90 240.00 H324.38 V241.20 H325.85 V242.54 H327.32 V243.85 H328.80 V245.10 H330.27 V245.65 H331.75 V246.23 H333.23 V246.80 H334.70 V247.40 H336.17 V248.34 H337.63 V249.36 H339.10 V250.30 H340.57 V251.60 H342.03 V252.99 H343.50 V254.40 H345.00 V254.79 H346.50 V255.09 H348.00 V255.50 H349.57 V256.54 H351.15 V257.61 H352.73 V258.53 H354.30 V259.60 H356.15 V260.95 H358.00 V262.50 L362.40 267.50 H372.00 V267.50 L372.50 271.50 H375.00 V272.00" fill="none" stroke="#46a846" stroke-width="1.45" stroke-linejoin="miter"/>
<path d="M297.20 218.70 H306.80 V218.90 H308.21 V219.51 H309.62 V219.99 H311.04 V220.54 H312.45 V221.14 H313.86 V221.74 H315.28 V222.22 H316.69 V222.81 H318.10 V223.40 H319.44 V223.92 H320.79 V224.53 H322.13 V225.02 H323.48 V225.63 H324.82 V226.08 H326.17 V226.64 H327.51 V227.23 H328.86 V227.81 H330.20 V228.30 H331.60 V228.77 H333.00 V229.21 H334.40 V229.67 H335.80 V230.19 H337.20 V230.62 H338.60 V231.16 H340.00 V231.60 L342.70 234.70 H344.12 V235.43 H345.55 V236.00 H346.97 V236.69 H348.40 V237.40 H350.03 V238.33 H351.67 V239.16 H353.30 V240.00 H354.73 V240.38 H356.15 V240.69 H357.57 V241.02 H359.00 V241.40 H360.63 V242.66 H362.27 V244.16 H363.90 V245.40 H372.70 V245.80 L374.00 249.00 H378.00 V249.00" fill="none" stroke="#3e2258" stroke-width="1.8" stroke-dasharray="3 1.8" stroke-linejoin="miter"/>
<text x="297.30" y="286.10" font-size="7.0" textLength="68.00" lengthAdjust="spacingAndGlyphs" fill="#333" >HR = 1.52 [1.17 &#8211; 1.98],</text>
<text x="297.30" y="293.00" font-size="7.0" textLength="31.10" lengthAdjust="spacingAndGlyphs" fill="#333" ><tspan font-style="italic">P</tspan> = .00184</text>
<line x1="293.10" y1="329.80" x2="300.70" y2="329.80" stroke="#46a846" stroke-width="1.2" />
<text x="303.70" y="332.00" font-size="7.0" textLength="25.30" lengthAdjust="spacingAndGlyphs" fill="#333" >Top 40%</text>
<line x1="335.40" y1="329.80" x2="339.40" y2="329.80" stroke="#333" stroke-width="1.3" />
<line x1="341.00" y1="329.80" x2="342.80" y2="329.80" stroke="#333" stroke-width="1.3" />
<line x1="342.30" y1="329.80" x2="343.50" y2="329.80" stroke="#555" stroke-width="1.1" />
<text x="346.00" y="332.00" font-size="7.0" textLength="35.50" lengthAdjust="spacingAndGlyphs" fill="#333" >Bottom 40%</text>
<path d="M425.3 215.8 H512.4 V297.2 H425.3 Z" fill="none" stroke="#2a2a2a" stroke-width="1.2"/>
<line x1="422.30" y1="294.00" x2="425.30" y2="294.00" stroke="#2a2a2a" stroke-width="1" />
<text x="420.00" y="296.50" font-size="7.2" text-anchor="end" fill="#444" >0.0</text>
<line x1="422.30" y1="279.00" x2="425.30" y2="279.00" stroke="#2a2a2a" stroke-width="1" />
<text x="420.00" y="281.50" font-size="7.2" text-anchor="end" fill="#444" >0.2</text>
<line x1="422.30" y1="264.00" x2="425.30" y2="264.00" stroke="#2a2a2a" stroke-width="1" />
<text x="420.00" y="266.50" font-size="7.2" text-anchor="end" fill="#444" >0.4</text>
<line x1="422.30" y1="249.00" x2="425.30" y2="249.00" stroke="#2a2a2a" stroke-width="1" />
<text x="420.00" y="251.50" font-size="7.2" text-anchor="end" fill="#444" >0.6</text>
<line x1="422.30" y1="234.00" x2="425.30" y2="234.00" stroke="#2a2a2a" stroke-width="1" />
<text x="420.00" y="236.50" font-size="7.2" text-anchor="end" fill="#444" >0.8</text>
<line x1="422.30" y1="219.00" x2="425.30" y2="219.00" stroke="#2a2a2a" stroke-width="1" />
<text x="420.00" y="221.50" font-size="7.2" text-anchor="end" fill="#444" >1.0</text>
<line x1="428.00" y1="297.20" x2="428.00" y2="300.20" stroke="#2a2a2a" stroke-width="1" />
<text x="428.00" y="309.40" font-size="7.0" text-anchor="middle" fill="#444" >0</text>
<line x1="444.85" y1="297.20" x2="444.85" y2="300.20" stroke="#2a2a2a" stroke-width="1" />
<text x="444.85" y="309.40" font-size="7.0" text-anchor="middle" fill="#444" >20</text>
<line x1="461.70" y1="297.20" x2="461.70" y2="300.20" stroke="#2a2a2a" stroke-width="1" />
<text x="461.70" y="309.40" font-size="7.0" text-anchor="middle" fill="#444" >40</text>
<line x1="478.55" y1="297.20" x2="478.55" y2="300.20" stroke="#2a2a2a" stroke-width="1" />
<text x="478.55" y="309.40" font-size="7.0" text-anchor="middle" fill="#444" >60</text>
<line x1="495.40" y1="297.20" x2="495.40" y2="300.20" stroke="#2a2a2a" stroke-width="1" />
<text x="495.40" y="309.40" font-size="7.0" text-anchor="middle" fill="#444" >80</text>
<text x="469.20" y="201.60" font-size="9" text-anchor="middle" textLength="28.60" lengthAdjust="spacingAndGlyphs" font-style="italic" >ADAR1</text>
<text x="468.60" y="211.80" font-size="9" text-anchor="middle" textLength="60.50" lengthAdjust="spacingAndGlyphs" fill="#333" >(Pomalidomide)</text>
<text x="468.40" y="320.80" font-size="8.6" text-anchor="middle" textLength="36.40" lengthAdjust="spacingAndGlyphs" fill="#333" >PFS (mth)</text>
<text x="403.50" y="257.00" font-size="7.6" text-anchor="middle" textLength="60.50" lengthAdjust="spacingAndGlyphs" fill="#444" transform="rotate(-90 403.50 257.00)" dy="2.6">Survival probability</text>
<path d="M429.30 218.40 L437.00 229.50 L441.00 237.00 L445.10 246.90 L446.70 251.40 L448.10 265.20 L451.50 270.70 H452.90 V272.02 H454.30 V273.45 H455.70 V274.87 H457.10 V276.30 H458.48 V277.13 H459.85 V277.98 H461.23 V278.94 H462.60 V279.70 H464.10 V280.96 H465.60 V282.30 H467.10 V284.00 H468.60 V285.36 H470.10 V286.79 H471.60 V288.00 H473.09 V288.30 H474.57 V288.63 H476.06 V288.93 H477.54 V289.18 H479.03 V289.52 H480.51 V289.83 H482.00 V290.10 H483.38 V290.42 H484.76 V290.72 H486.13 V291.02 H487.51 V291.33 H488.89 V291.63 H490.27 V291.93 H491.64 V292.28 H493.02 V292.57 H494.40 V292.90 H495.79 V293.01 H497.17 V293.09 H498.56 V293.21 H499.94 V293.30 H501.33 V293.41 H502.71 V293.51 H504.10 V293.60" fill="none" stroke="#d6f0d6" stroke-width="3.4" stroke-linejoin="round"/>
<path d="M429.30 218.40 L437.00 229.00 L441.00 236.50 L445.10 246.90 L448.10 251.40 L451.50 257.60 L455.70 263.80 L459.80 270.70 H461.18 V271.62 H462.56 V272.40 H463.94 V273.12 H465.32 V274.11 H466.70 V274.90 L472.30 281.80 H473.68 V282.12 H475.05 V282.48 H476.43 V282.86 H477.80 V283.20 H479.18 V283.54 H480.55 V283.94 H481.93 V284.26 H483.30 V284.60 H484.69 V284.77 H486.07 V284.94 H487.46 V285.14 H488.85 V285.30 H490.24 V285.49 H491.62 V285.64 H493.01 V285.81 H494.40 V286.00 H495.78 V286.34 H497.17 V286.69 H498.55 V286.97 H499.93 V287.36 H501.32 V287.70 H502.70 V288.00 H504.07 V288.75 H505.45 V289.46 H506.82 V290.01 H508.20 V290.80" fill="none" stroke="#f0dcf2" stroke-width="3.6" stroke-linejoin="round"/>
<path d="M429.30 218.40 L437.00 229.50 L441.00 237.00 L445.10 246.90 L446.70 251.40 L448.10 265.20 L451.50 270.70 H452.90 V272.02 H454.30 V273.45 H455.70 V274.87 H457.10 V276.30 H458.48 V277.13 H459.85 V277.98 H461.23 V278.94 H462.60 V279.70 H464.10 V280.96 H465.60 V282.30 H467.10 V284.00 H468.60 V285.36 H470.10 V286.79 H471.60 V288.00 H473.09 V288.30 H474.57 V288.63 H476.06 V288.93 H477.54 V289.18 H479.03 V289.52 H480.51 V289.83 H482.00 V290.10 H483.38 V290.42 H484.76 V290.72 H486.13 V291.02 H487.51 V291.33 H488.89 V291.63 H490.27 V291.93 H491.64 V292.28 H493.02 V292.57 H494.40 V292.90 H495.79 V293.01 H497.17 V293.09 H498.56 V293.21 H499.94 V293.30 H501.33 V293.41 H502.71 V293.51 H504.10 V293.60" fill="none" stroke="#46a846" stroke-width="1.45" stroke-linejoin="miter"/>
<path d="M429.30 218.40 L437.00 229.00 L441.00 236.50 L445.10 246.90 L448.10 251.40 L451.50 257.60 L455.70 263.80 L459.80 270.70 H461.18 V271.62 H462.56 V272.40 H463.94 V273.12 H465.32 V274.11 H466.70 V274.90 L472.30 281.80 H473.68 V282.12 H475.05 V282.48 H476.43 V282.86 H477.80 V283.20 H479.18 V283.54 H480.55 V283.94 H481.93 V284.26 H483.30 V284.60 H484.69 V284.77 H486.07 V284.94 H487.46 V285.14 H488.85 V285.30 H490.24 V285.49 H491.62 V285.64 H493.01 V285.81 H494.40 V286.00 H495.78 V286.34 H497.17 V286.69 H498.55 V286.97 H499.93 V287.36 H501.32 V287.70 H502.70 V288.00 H504.07 V288.75 H505.45 V289.46 H506.82 V290.01 H508.20 V290.80" fill="none" stroke="#5a2d78" stroke-width="1.5" stroke-dasharray="3.5 2.2" stroke-linejoin="miter"/>
<text x="508.10" y="224.30" font-size="7.0" text-anchor="end" textLength="64.20" lengthAdjust="spacingAndGlyphs" fill="#333" >HR = 1.2 [0.98 &#8211; 1.47],</text>
<text x="508.10" y="232.20" font-size="7.0" text-anchor="end" textLength="26.60" lengthAdjust="spacingAndGlyphs" fill="#333" ><tspan font-style="italic">P</tspan> = .0735</text>
<line x1="424.40" y1="329.80" x2="432.20" y2="329.80" stroke="#46a846" stroke-width="1.2" />
<text x="435.00" y="332.00" font-size="7.0" textLength="25.30" lengthAdjust="spacingAndGlyphs" fill="#333" >Top 40%</text>
<line x1="465.40" y1="329.80" x2="469.40" y2="329.80" stroke="#333" stroke-width="1.3" />
<line x1="471.00" y1="329.80" x2="472.80" y2="329.80" stroke="#333" stroke-width="1.3" />
<line x1="472.30" y1="329.80" x2="473.50" y2="329.80" stroke="#555" stroke-width="1.1" />
<text x="476.60" y="332.00" font-size="7.0" textLength="36.00" lengthAdjust="spacingAndGlyphs" fill="#333" >Bottom 40%</text>
</svg></body></html>
